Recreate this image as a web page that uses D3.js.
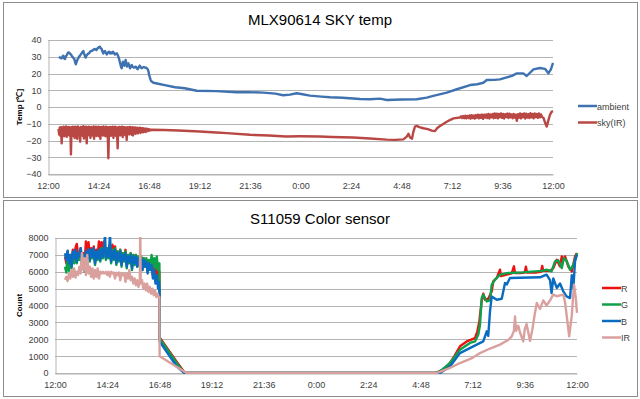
<!DOCTYPE html>
<html>
<head>
<meta charset="utf-8">
<script src="https://cdn.jsdelivr.net/npm/d3@7"></script>
<style>
body { margin: 0; background: #fff; }
svg { display: block; font-family: "Liberation Sans", Arial, sans-serif; }
</style>
</head>
<body>
<svg id="page" width="640" height="399"></svg>
<script>
// time axis: hours after 12:00 (noon), 24 h span
var timeLabels = ["12:00", "14:24", "16:48", "19:12", "21:36", "0:00", "2:24", "4:48", "7:12", "9:36", "12:00"];
var tempTicks = [-40, -30, -20, -10, 0, 10, 20, 30, 40];
var countTicks = [0, 1000, 2000, 3000, 4000, 5000, 6000, 7000, 8000];

// MLX90614 — [hours after 12:00, degC]
var ambient = [[0.52,30.0],[0.58,29.4],[0.65,29.1],[0.69,30.2],[0.73,30.6],[0.77,29.0],[0.81,28.7],[0.85,30.3],[0.89,31.0],[0.95,32.4],
  [1.00,32.6],[1.05,31.8],[1.09,31.4],[1.13,30.5],[1.16,30.0],[1.21,29.2],[1.25,28.7],[1.29,26.8],[1.32,25.5],[1.35,26.5],
  [1.38,27.5],[1.41,28.6],[1.44,29.1],[1.48,30.2],[1.52,30.6],[1.56,31.5],[1.60,32.0],[1.64,32.9],[1.68,33.4],[1.71,32.0],
  [1.73,31.4],[1.76,30.2],[1.79,29.5],[1.82,30.5],[1.85,31.0],[1.90,31.8],[1.95,32.0],[2.00,33.0],[2.04,33.4],[2.10,33.6],
  [2.15,34.0],[2.19,34.5],[2.23,34.6],[2.27,34.2],[2.31,34.0],[2.35,35.0],[2.39,35.4],[2.43,35.8],[2.47,36.0],[2.51,35.0],
  [2.55,34.6],[2.59,33.0],[2.63,32.0],[2.67,33.2],[2.71,33.4],[2.75,32.2],[2.80,31.4],[2.85,32.5],[2.90,33.0],[2.95,32.0],
  [2.99,32.6],[3.04,32.0],[3.09,33.0],[3.13,32.2],[3.18,31.4],[3.23,31.8],[3.28,32.0],[3.33,30.5],[3.37,29.1],[3.41,27.0],
  [3.44,25.5],[3.47,24.0],[3.50,23.1],[3.53,25.5],[3.56,27.0],[3.60,25.5],[3.63,24.7],[3.66,26.5],[3.69,28.1],[3.72,26.0],
  [3.75,24.1],[3.78,25.2],[3.82,26.1],[3.86,24.5],[3.90,23.1],[3.94,24.3],[3.98,25.1],[4.02,24.0],[4.07,23.5],[4.12,23.8],
  [4.17,24.1],[4.21,23.2],[4.26,22.5],[4.31,23.8],[4.36,24.7],[4.40,23.8],[4.45,23.1],[4.50,23.6],[4.55,23.9],[4.60,23.6],
  [4.64,23.5],[4.68,23.2],[4.71,23.1],[4.74,22.5],[4.77,21.5],[4.80,19.5],[4.83,18.1],[4.87,16.5],[4.90,15.5],[5.01,14.5],
  [5.24,13.9],[5.55,13.1],[6.04,11.8],[6.5,11.2],[7.07,9.7],[8.0,9.5],[8.97,8.8],[9.5,8.9],[10.23,8.6],[10.8,8.0],
  [11.18,7.0],[11.5,7.4],[11.82,8.2],[12.1,7.6],[12.45,6.8],[13.0,6.2],[13.4,5.8],[14.0,5.5],[14.83,4.8],[15.3,4.6],
  [15.78,5.0],[16.1,4.2],[16.8,4.5],[17.52,4.6],[18.0,5.6],[18.31,6.6],[18.95,8.6],[19.43,10.6],[20.06,13.1],[20.4,13.6],
  [20.69,14.5],[20.85,16.1],[21.2,16.2],[21.48,16.5],[21.8,17.7],[22.05,18.6],[22.28,20.1],[22.59,20.1],[22.75,18.5],[23.07,22.5],
  [23.38,23.3],[23.62,22.8],[23.78,20.1],[23.9,22.5],[24.0,26.4]];

var skyIR = [[0.50,-13.0],[0.53,-16.5],[0.56,-12.2],[0.59,-17.2],[0.62,-12.0],[0.65,-21.7],[0.68,-12.4],[0.71,-16.0],[0.74,-11.8],[0.77,-17.5],
  [0.80,-12.1],[0.83,-16.2],[0.86,-11.6],[0.89,-17.8],[0.92,-12.3],[0.95,-16.4],[0.98,-11.9],[1.01,-17.0],[1.04,-12.2],[1.07,-16.8],
  [1.09,-28.3],[1.12,-12.0],[1.15,-16.5],[1.18,-11.7],[1.21,-17.4],[1.24,-12.2],[1.27,-18.6],[1.30,-11.8],[1.33,-16.3],[1.36,-12.0],
  [1.39,-19.0],[1.42,-11.6],[1.45,-16.7],[1.48,-12.3],[1.51,-17.1],[1.53,-20.7],[1.56,-11.9],[1.59,-16.4],[1.62,-12.1],[1.65,-17.3],
  [1.68,-11.5],[1.71,-18.9],[1.74,-12.0],[1.77,-16.6],[1.80,-11.8],[1.84,-21.7],[1.87,-12.2],[1.90,-16.1],[1.93,-11.7],[1.96,-17.0],
  [1.99,-12.0],[2.02,-18.5],[2.05,-11.9],[2.08,-16.5],[2.11,-12.3],[2.14,-17.2],[2.17,-11.6],[2.19,-19.0],[2.22,-12.0],[2.25,-16.3],
  [2.28,-11.8],[2.31,-17.4],[2.34,-12.1],[2.37,-16.0],[2.40,-11.7],[2.43,-17.6],[2.46,-12.2],[2.49,-19.0],[2.52,-11.9],[2.55,-16.4],
  [2.58,-12.0],[2.61,-17.1],[2.64,-11.6],[2.67,-16.8],[2.70,-12.3],[2.73,-17.5],[2.76,-11.8],[2.79,-16.2],[2.82,-12.1],[2.84,-17.0],
  [2.87,-30.6],[2.90,-12.0],[2.93,-16.6],[2.96,-11.9],[2.99,-17.2],[3.02,-12.2],[3.05,-16.0],[3.08,-11.7],[3.11,-18.5],[3.14,-12.1],
  [3.17,-16.4],[3.20,-11.8],[3.23,-17.3],[3.26,-12.3],[3.29,-18.0],[3.31,-24.7],[3.34,-12.0],[3.37,-16.2],[3.40,-11.9],[3.43,-17.0],
  [3.46,-12.2],[3.49,-16.5],[3.52,-11.8],[3.55,-18.0],[3.58,-12.1],[3.61,-16.1],[3.64,-12.0],[3.67,-16.8],[3.70,-12.3],[3.74,-19.7],
  [3.77,-12.0],[3.80,-15.8],[3.83,-12.2],[3.86,-16.4],[3.89,-11.9],[3.92,-15.9],[3.95,-12.3],[3.98,-16.6],[4.01,-12.1],[4.04,-17.0],
  [4.07,-12.4],[4.10,-15.6],[4.13,-12.2],[4.16,-16.0],[4.19,-12.5],[4.22,-15.4],[4.25,-12.3],[4.28,-15.8],[4.31,-12.6],[4.34,-15.0],
  [4.37,-12.4],[4.40,-15.5],[4.43,-12.7],[4.46,-14.8],[4.49,-12.6],[4.52,-15.1],[4.55,-12.8],[4.58,-14.6],[4.61,-12.9],[4.64,-14.9],
  [4.67,-13.0],[4.70,-14.4],[4.73,-13.1],[4.76,-14.3],[4.79,-13.2],[4.82,-14.1],[4.85,-13.4],[4.88,-13.9],[4.91,-13.6],
  [5.5,-13.7],[6.2,-14.0],[7.2,-14.6],[8.0,-15.2],[8.5,-15.6],[9.6,-16.6],[10.5,-17.0],[11.3,-17.6],[12.0,-17.5],[12.9,-17.6],
  [13.5,-17.9],[14.5,-18.2],[15.3,-18.8],[16.1,-19.5],[16.5,-19.6],[16.89,-19.3],[17.05,-17.7],[17.13,-16.0],[17.21,-18.2],[17.30,-18.9],
  [17.36,-15.0],[17.44,-11.7],[17.52,-11.3],[17.65,-12.0],[17.84,-12.7],[18.05,-13.2],[18.24,-14.1],[18.39,-14.4],[18.5,-12.5],[18.63,-11.3],
  [18.8,-10.0],[18.95,-8.8],[19.1,-7.8],[19.27,-6.8],[19.58,-6.3],[19.63,-5.6],[19.68,-6.6],[19.73,-5.4],[19.78,-6.7],[19.83,-5.2],
  [19.88,-6.8],[19.93,-5.3],[19.98,-6.5],[20.03,-5.0],[20.08,-7.0],[20.13,-4.9],[20.18,-6.6],[20.23,-5.1],[20.28,-6.9],[20.33,-4.8],
  [20.38,-6.4],[20.43,-4.6],[20.48,-6.8],[20.53,-4.7],[20.58,-6.5],[20.63,-4.5],[20.68,-7.1],[20.73,-4.6],[20.78,-6.3],[20.83,-4.4],
  [20.88,-6.6],[20.93,-4.2],[20.98,-6.9],[21.03,-4.5],[21.08,-6.2],[21.13,-4.1],[21.18,-6.7],[21.23,-3.9],[21.28,-6.4],[21.33,-4.0],
  [21.38,-6.8],[21.43,-4.2],[21.48,-6.1],[21.53,-3.8],[21.58,-6.5],[21.63,-4.1],[21.68,-6.9],[21.73,-4.3],[21.78,-6.0],[21.83,-3.9],
  [21.88,-6.6],[21.93,-4.0],[21.98,-6.2],[22.03,-4.4],[22.08,-6.7],[22.13,-4.1],[22.18,-6.3],[22.23,-4.6],[22.28,-8.2],[22.33,-4.3],
  [22.38,-6.4],[22.43,-3.9],[22.48,-6.8],[22.53,-4.2],[22.58,-6.1],[22.63,-3.8],[22.68,-6.9],[22.73,-4.0],[22.78,-6.3],[22.83,-4.3],
  [22.88,-6.6],[22.93,-3.7],[22.98,-6.2],[23.03,-4.1],[23.08,-6.8],[23.13,-3.9],[23.18,-6.0],[23.23,-4.2],[23.28,-6.5],[23.33,-3.8],
  [23.38,-6.1],[23.43,-4.4],[23.48,-5.9],[23.55,-6.5],[23.6,-8.5],[23.7,-11.7],[23.78,-8.0],[23.86,-4.5],[23.94,-2.8],[24.0,-2.5]];

// S11059 — [hours after 12:00, count]
var countR = [[0.46,6900],[0.52,6500],[0.58,7200],[0.64,6400],[0.70,7000],[0.76,6500],[0.82,7300],[0.88,6800],[0.94,7400],[1.00,7650],
  [1.06,7000],[1.12,6900],[1.18,7400],[1.24,6700],[1.30,7100],[1.36,6300],[1.42,7800],[1.48,6900],[1.54,7750],[1.60,6800],
  [1.66,7400],[1.72,7000],[1.78,7500],[1.84,6600],[1.90,7300],[1.96,6900],[2.02,7800],[2.08,6800],[2.14,7750],[2.20,7000],
  [2.26,7800],[2.34,6900],[2.40,7400],[2.46,7000],[2.52,7500],[2.58,6700],[2.64,7600],[2.70,6900],[2.76,7500],[2.82,6600],
  [2.88,7200],[2.94,6800],[3.00,7300],[3.06,6500],[3.12,7100],[3.18,6800],[3.24,7300],[3.30,6400],[3.36,7000],[3.42,6700],
  [3.48,7100],[3.54,6300],[3.60,7000],[3.66,6600],[3.72,7000],[3.78,6400],[3.84,6900],[3.90,6500],[3.96,6900],[4.02,6200],
  [4.08,6800],[4.14,6400],[4.20,6700],[4.26,6000],[4.32,6600],[4.38,6200],[4.44,6500],[4.50,5800],[4.56,6300],[4.62,5600],
  [4.68,6200],[4.74,5400],[4.80,6000],[4.81,2100],[5.6,650],[5.97,0],[17.5,0],[18.01,300],[18.31,890],[18.62,1580],
  [18.93,1870],[19.31,2070],[19.42,2470],[19.51,3060],[19.62,4300],[19.69,4700],[19.77,4340],[19.92,4400],[20.08,4840],[20.15,5430],
  [20.31,5630],[20.46,6120],[20.5,5750],[20.77,5830],[21.0,5900],[21.1,6320],[21.15,5930],[21.38,5930],[21.6,5950],[21.65,6300],
  [21.7,5960],[22.15,5960],[22.35,6000],[22.4,6350],[22.45,6050],[22.76,6050],[22.91,6220],[23.07,6710],[23.22,6320],[23.3,6910],
  [23.36,6700],[23.45,6910],[23.6,6320],[23.76,6020],[23.91,6910],[24.0,7110]];

var countG = [[0.46,6300],[0.52,5950],[0.58,7100],[0.64,6050],[0.70,6900],[0.76,6200],[0.82,7100],[0.88,6500],[0.94,7200],[1.00,6500],
  [1.06,7000],[1.12,6700],[1.18,7300],[1.24,6400],[1.30,6900],[1.36,6000],[1.42,7100],[1.48,6700],[1.54,7300],[1.60,6600],
  [1.66,7200],[1.72,6800],[1.78,7300],[1.84,6400],[1.90,7100],[1.96,6700],[2.02,7300],[2.08,6600],[2.14,7400],[2.20,6800],
  [2.26,7500],[2.34,6700],[2.40,7400],[2.46,6800],[2.52,7400],[2.58,6500],[2.64,7300],[2.70,6700],[2.76,7400],[2.82,6400],
  [2.88,7200],[2.94,6600],[3.00,7300],[3.06,6300],[3.12,7100],[3.18,6600],[3.24,7200],[3.30,6200],[3.36,7000],[3.42,6500],
  [3.48,7100],[3.54,6100],[3.60,7000],[3.66,6400],[3.72,7000],[3.78,6300],[3.84,6900],[3.90,6300],[3.96,6900],[4.02,6100],
  [4.08,6800],[4.14,6300],[4.20,6800],[4.26,6100],[4.32,6700],[4.38,6200],[4.44,7000],[4.50,6300],[4.56,6800],[4.62,6200],
  [4.68,6900],[4.74,6100],[4.80,6500],[4.81,2050],[5.59,590],[5.95,0],[17.5,0],[17.7,100],[18.16,590],[18.62,1380],
  [19.08,1780],[19.31,1870],[19.46,2270],[19.54,2860],[19.62,4440],[19.69,4640],[19.85,4240],[20.0,4300],[20.08,5230],[20.23,5530],
  [20.46,5830],[20.85,5930],[21.5,5960],[21.77,5990],[22.4,6050],[22.6,6120],[22.83,6020],[22.99,6620],[23.14,6680],[23.3,6220],
  [23.4,6810],[23.52,6650],[23.68,6120],[23.83,6400],[23.95,6900],[24.0,7110]];

var countB = [[0.46,7100],[0.52,6700],[0.58,7250],[0.64,6500],[0.70,7000],[0.76,6300],[0.82,7200],[0.88,6800],[0.94,7300],[1.00,6600],
  [1.06,7100],[1.12,6900],[1.18,7400],[1.24,6600],[1.30,7000],[1.36,6100],[1.42,7200],[1.48,6800],[1.54,7350],[1.60,6700],
  [1.66,7300],[1.72,6900],[1.78,7400],[1.84,6500],[1.90,7200],[1.96,6800],[2.02,7300],[2.08,6700],[2.14,7350],[2.20,6900],
  [2.26,7500],[2.30,8200],[2.34,6800],[2.40,7300],[2.46,6900],[2.53,8200],[2.58,6600],[2.64,7200],[2.70,6800],[2.76,7300],
  [2.82,6500],[2.88,7100],[2.94,6700],[3.00,7200],[3.06,6400],[3.12,7000],[3.18,6700],[3.24,7100],[3.30,6300],[3.36,6900],
  [3.42,6600],[3.48,7000],[3.54,6200],[3.60,6900],[3.66,6500],[3.72,6900],[3.78,6300],[3.84,6800],[3.90,6400],[3.96,6800],
  [4.02,6100],[4.08,6700],[4.14,6300],[4.20,6600],[4.26,5900],[4.32,6500],[4.38,6100],[4.44,6400],[4.50,5600],[4.56,6100],
  [4.62,5300],[4.68,5800],[4.74,5000],[4.78,5400],[4.80,4900],[4.81,1870],[5.0,1500],[5.59,400],[5.9,50],[6.0,0],
  [17.7,0],[18.16,390],[18.62,1180],[19.23,1580],[19.69,1870],[19.85,2470],[19.92,2200],[20.0,3650],[20.08,4540],[20.31,4340],
  [20.54,4400],[20.69,5330],[20.77,5250],[20.92,5630],[22.3,5670],[22.6,5830],[22.76,5500],[22.83,4740],[22.91,5600],[23.07,5040],
  [23.22,5300],[23.37,4840],[23.52,4540],[23.68,4440],[23.76,5800],[23.83,5000],[23.91,6620],[24.0,7010]];

var countIR = [[0.46,5530],[0.52,5700],[0.58,5450],[0.64,5900],[0.70,5600],[0.76,6100],[0.82,5700],[0.88,6200],[0.94,5650],[1.00,6000],
  [1.06,5800],[1.12,6300],[1.18,5900],[1.24,7100],[1.30,6100],[1.36,6800],[1.42,5800],[1.48,7000],[1.54,5900],[1.60,6300],
  [1.66,5700],[1.72,6200],[1.78,5600],[1.84,6100],[1.90,5700],[1.96,6200],[2.02,5600],[2.08,6000],[2.14,5900],[2.20,6000],
  [2.26,5900],[2.34,6000],[2.40,5800],[2.46,6000],[2.52,5700],[2.58,6000],[2.64,5900],[2.70,5950],[2.76,5600],[2.82,5950],
  [2.88,5800],[2.94,5950],[3.00,5500],[3.06,5900],[3.12,5800],[3.18,5900],[3.24,5400],[3.30,5900],[3.36,5600],[3.42,6100],
  [3.48,5500],[3.54,5700],[3.60,5300],[3.66,5600],[3.72,5200],[3.78,5500],[3.84,5100],[3.90,5400],[3.92,8600],[3.94,5300],
  [4.00,5500],[4.06,5000],[4.12,5300],[4.18,4900],[4.24,5300],[4.30,4800],[4.36,5100],[4.42,4700],[4.48,5000],[4.54,4600],
  [4.60,4900],[4.66,4500],[4.72,4700],[4.78,4450],[4.80,4500],[4.81,990],[6.05,0],[17.55,0],[18.16,300],[18.62,590],
  [19.2,900],[19.54,1180],[20.0,1450],[20.46,1680],[20.85,1970],[21.0,2170],[21.1,2500],[21.15,3350],[21.2,2500],[21.3,2800],
  [21.38,2400],[21.53,1870],[21.6,2600],[21.68,2900],[21.84,1900],[21.95,2600],[22.06,3500],[22.15,4150],[22.3,3800],[22.45,4300],
  [22.6,4000],[22.76,4300],[22.91,4640],[23.07,4550],[23.22,4600],[23.37,4640],[23.45,4200],[23.52,3460],[23.64,2170],[23.72,3000],
  [23.76,3400],[23.86,5230],[23.94,4500],[24.0,3560]];

var svg = d3.select("#page");
var gridColor = "#b4b4b4";
var textColor = "#404040";

function drawChart(cfg) {
    // chart area frame
    svg.append("rect")
        .attr("x", cfg.box[0] + 0.5).attr("y", cfg.box[1] + 0.5)
        .attr("width", cfg.box[2]).attr("height", cfg.box[3])
        .attr("fill", "#fff").attr("stroke", "#8c8c8c");

    var x = d3.scaleLinear().domain([0, 24]).range([cfg.left, cfg.right]);
    var y = d3.scaleLinear().domain(cfg.domain).range([cfg.bottom, cfg.top]);

    // horizontal gridlines
    svg.append("g").selectAll("line")
        .data(cfg.ticks)
        .enter()
        .append("line")
        .attr("x1", cfg.left).attr("x2", cfg.right)
        .attr("y1", function (d) { return Math.round(y(d)) + 0.5; })
        .attr("y2", function (d) { return Math.round(y(d)) + 0.5; })
        .attr("stroke", gridColor);

    // y axis
    var yAxis = d3.axisLeft(y).tickValues(cfg.ticks).tickFormat(d3.format("d"))
        .tickSize(0).tickPadding(7);
    var gy = svg.append("g")
        .attr("transform", "translate(" + (cfg.left + 0.5) + ",0)")
        .call(yAxis);
    gy.select(".domain").attr("stroke", gridColor);
    gy.selectAll("text").attr("font-size", 9).attr("fill", textColor)
        .attr("font-family", "'Liberation Sans', Arial, sans-serif");

    // x axis
    var xAxis = d3.axisBottom(x)
        .tickValues(d3.range(timeLabels.length).map(function (i) { return i * 2.4; }))
        .tickFormat(function (d, i) { return timeLabels[i]; })
        .tickSize(0).tickPadding(8);
    var gx = svg.append("g")
        .attr("transform", "translate(0," + (Math.round(cfg.bottom) + 0.5) + ")")
        .call(xAxis);
    gx.select(".domain").attr("stroke", gridColor);
    gx.selectAll("text").attr("font-size", 9).attr("fill", textColor)
        .attr("font-family", "'Liberation Sans', Arial, sans-serif");

    // clip
    svg.append("clipPath").attr("id", cfg.id + "-clip")
        .append("rect")
        .attr("x", cfg.left).attr("y", cfg.top - 1)
        .attr("width", cfg.right - cfg.left + 4).attr("height", cfg.bottom - cfg.top + 2);

    var line = d3.line()
        .x(function (d) { return x(d[0]); })
        .y(function (d) { return y(d[1]); });

    svg.append("g")
        .attr("clip-path", "url(#" + cfg.id + "-clip)")
        .selectAll("path")
        .data(cfg.series)
        .enter()
        .append("path")
        .attr("d", function (d) { return line(d.values); })
        .attr("fill", "none")
        .attr("stroke", function (d) { return d.color; })
        .attr("stroke-width", cfg.lineWidth)
        .attr("stroke-linejoin", "round");

    // title
    svg.append("text")
        .attr("x", cfg.titleX).attr("y", cfg.titleY)
        .attr("text-anchor", "middle")
        .attr("font-size", 15).attr("fill", "#000")
        .text(cfg.title);

    // y axis title
    svg.append("text")
        .attr("transform", "translate(" + cfg.yTitleX + "," + ((cfg.top + cfg.bottom) / 2) + ") rotate(-90)")
        .attr("text-anchor", "middle")
        .attr("font-size", 8).attr("font-weight", "bold").attr("fill", "#000")
        .text(cfg.yTitle);

    // legend
    var lg = svg.append("g").selectAll("g")
        .data(cfg.series)
        .enter()
        .append("g")
        .attr("transform", function (d, i) { return "translate(" + cfg.legendX + "," + (cfg.legendY + i * cfg.legendStep) + ")"; });
    lg.append("line")
        .attr("x1", 0).attr("x2", 19)
        .attr("stroke", function (d) { return d.color; })
        .attr("stroke-width", 2.5);
    lg.append("text")
        .attr("x", 19).attr("y", 3.5)
        .attr("font-size", 9).attr("fill", textColor)
        .text(function (d) { return d.name; });
}

drawChart({
    id: "temp",
    box: [3, 2, 634, 195],
    left: 48, right: 553, top: 40, bottom: 174,
    domain: [-40, 40],
    ticks: tempTicks,
    lineWidth: 2.4,
    title: "MLX90614 SKY temp",
    titleX: 320, titleY: 25,
    yTitle: "Temp [\u2103]", yTitleX: 22,
    legendX: 578, legendY: 106, legendStep: 16.5,
    series: [
        { name: "ambient", color: "#3f72b0", values: ambient },
        { name: "sky(IR)", color: "#b94845", values: skyIR }
    ]
});

drawChart({
    id: "count",
    box: [3, 200, 634, 196],
    left: 55, right: 577, top: 238, bottom: 373,
    domain: [0, 8000],
    ticks: countTicks,
    lineWidth: 2.4,
    title: "S11059 Color sensor",
    titleX: 320, titleY: 224,
    yTitle: "Count", yTitleX: 22,
    legendX: 602, legendY: 288, legendStep: 16.5,
    series: [
        { name: "R", color: "#ee1111", values: countR },
        { name: "G", color: "#0fa04a", values: countG },
        { name: "B", color: "#0a6cc0", values: countB },
        { name: "IR", color: "#daa09e", values: countIR }
    ]
});
</script>
</body>
</html>
